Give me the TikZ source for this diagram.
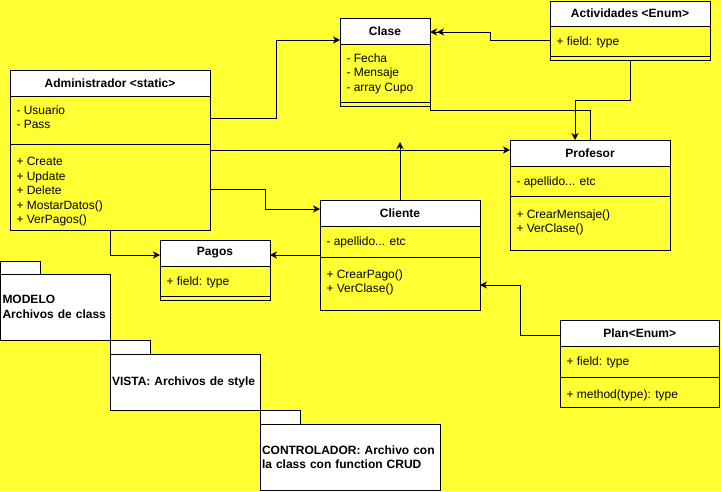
\documentclass[tikz,border=0pt]{standalone}
\usepackage{fontspec}
\setmainfont{Liberation Sans}
\usepackage{xcolor}
\usetikzlibrary{arrows.meta, positioning}
\definecolor{bgyellow}{HTML}{FFFF33}
\tikzstyle{head}    = [rectangle, draw=black, fill=white, anchor=north west,
                        minimum height=26pt, inner sep=0pt, outer sep=0pt,
                        font=\bfseries\fontsize{12}{14}\selectfont]
\tikzstyle{part}    = [rectangle, draw=black, inner sep=0pt, outer sep=0pt]
\tikzstyle{members} = [align=left, inner sep=0pt, font=\fontsize{12}{14.4}\selectfont]
\tikzstyle{pkg}     = [rectangle, draw=black, fill=white, anchor=north west,
                        align=left, inner xsep=2pt, inner ysep=0pt, outer sep=0pt,
                        font=\bfseries\fontsize{12}{14.4}\selectfont]
\tikzstyle{pkgtab}  = [rectangle, draw=black, fill=white, inner sep=0pt,
                        outer sep=0pt, minimum width=40pt, minimum height=14pt]
\tikzstyle{arrow}   = [->, >={Stealth[length=7pt,width=7pt,inset=2pt]}]
\begin{document}
\begin{tikzpicture}[x=1pt, y=-1pt, line width=1pt]

\useasboundingbox (0,0) rectangle (721,491);
\fill[bgyellow] (0,0) rectangle (721,491);

% classes
\node (clase) [head, minimum width=90pt] at (340,18) {Clase};
\node (clase-attr) [part, minimum width=90pt, minimum height=58pt, below=0pt of clase] {};
\node (clase-ops)  [part, minimum width=90pt, minimum height=4pt, below=0pt of clase-attr] {};
\node (clase-attr-txt) [members, below right=9pt and 6pt of clase-attr.north west]
                                     {- Fecha\\- Mensaje\\- array Cupo};

\node (admin) [head, minimum width=200pt] at (10,70) {Administrador <static>};
\node (admin-attr) [part, minimum width=200pt, minimum height=48pt, below=0pt of admin] {};
\node (admin-ops)  [part, minimum width=200pt, minimum height=86pt, below=0pt of admin-attr] {};
\node (admin-attr-txt) [members, below right=9pt and 6pt of admin-attr.north west]
                                     {- Usuario\\- Pass};
\node (admin-ops-txt)  [members, below right=13pt and 6pt of admin-ops.north west]
                                     {+ Create\\+ Update\\+ Delete\\+ MostarDatos()\\+ VerPagos()};

\node (act) [head, minimum width=160pt, minimum height=25pt] at (550,1) {Actividades <Enum>};
\node (act-attr) [part, minimum width=160pt, minimum height=30pt, below=0pt of act] {};
\node (act-ops)  [part, minimum width=160pt, minimum height=4pt, below=0pt of act-attr] {};
\node (act-attr-txt) [members, below right=10pt and 6pt of act-attr.north west] {+ field: type};

\node (profesor) [head, minimum width=160pt] at (510,140) {Profesor};
\node (profesor-attr) [part, minimum width=160pt, minimum height=30pt, below=0pt of profesor] {};
\node (profesor-ops)  [part, minimum width=160pt, minimum height=54pt, below=0pt of profesor-attr] {};
\node (profesor-attr-txt) [members, below right=10pt and 6pt of profesor-attr.north west]
                                     {- apellido... etc};
\node (profesor-ops-txt)  [members, below right=13pt and 6pt of profesor-ops.north west]
                                     {+ CrearMensaje()\\+ VerClase()};

\node (cliente) [head, minimum width=160pt] at (320,200) {Cliente};
\node (cliente-attr) [part, minimum width=160pt, minimum height=31pt, below=0pt of cliente] {};
\node (cliente-ops)  [part, minimum width=160pt, minimum height=53pt, below=0pt of cliente-attr] {};
\node (cliente-attr-txt) [members, below right=10pt and 6pt of cliente-attr.north west]
                                     {- apellido... etc};
\node (cliente-ops-txt)  [members, below right=12pt and 6pt of cliente-ops.north west]
                                     {+ CrearPago()\\+ VerClase()};

\node (pagos) [head, minimum width=110pt] at (160,240) {Pagos};
\node (pagos-attr) [part, minimum width=110pt, minimum height=30pt, below=0pt of pagos] {};
\node (pagos-ops)  [part, minimum width=110pt, minimum height=4pt, below=0pt of pagos-attr] {};
\node (pagos-attr-txt) [members, below right=10pt and 6pt of pagos-attr.north west] {+ field: type};

\node (plan) [head, minimum width=159.5pt] at (560,320) {Plan<Enum>};
\node (plan-attr) [part, minimum width=159.5pt, minimum height=31pt, below=0pt of plan] {};
\node (plan-ops)  [part, minimum width=159.5pt, minimum height=30pt, below=0pt of plan-attr] {};
\node (plan-attr-txt) [members, below right=10pt and 6pt of plan-attr.north west] {+ field: type};
\node (plan-ops-txt)  [members, below right=12pt and 6pt of plan-ops.north west]
                                     {+ method(type): type};

% packages
\node (modelo) [pkg, minimum width=109.5pt, text width=105.5pt, minimum height=66pt]
                                     at (0.5,274) {MODELO\\Archivos de class};
\node (modelo-tab) [pkgtab, minimum height=13pt, above right=0pt of modelo.north west] {};
\node (vista) [pkg, minimum width=150pt, text width=146pt, minimum height=56pt]
                                     at (110,354) {VISTA: Archivos de style};
\node (vista-tab) [pkgtab, above right=0pt of vista.north west] {};
\node (control) [pkg, minimum width=180pt, text width=176pt, minimum height=66pt]
                                     at (260,424) {CONTROLADOR: Archivo con\\la class con function CRUD};
\node (control-tab) [pkgtab, above right=0pt of control.north west] {};

% connectors
\coordinate (clase-in) at (400,142);
\draw [arrow] (admin-attr.east |- 0,118) -- (276,118) |- (clase.west |- 0,40);
\draw [arrow] (admin-ops.east |- 0,150) -- (profesor.west |- 0,150);
\draw [arrow] (admin-ops.east |- 0,189) -- (265,189) |- (cliente.west |- 0,209);
\draw [arrow] (admin-ops.south) |- (pagos.west |- 0,255);
\draw [arrow] (cliente-attr.west |- 0,255) -- (pagos.east |- 0,255);
\draw [arrow] (cliente.north) -- (clase-in);
\draw [arrow] (plan.west |- 0,335) -- (520,335) |- (cliente-ops.east |- 0,285);
\draw [arrow, ->>] (act-attr.west |- 0,40) -- (490,40) |- (clase.east |- 0,32);
\draw (clase-ops.south east) |- (590,110) -- (profesor.north);
\draw [arrow] (act-ops.south) |- (575,100) -- (profesor.north -| 575,0);

\end{tikzpicture}
\end{document}
